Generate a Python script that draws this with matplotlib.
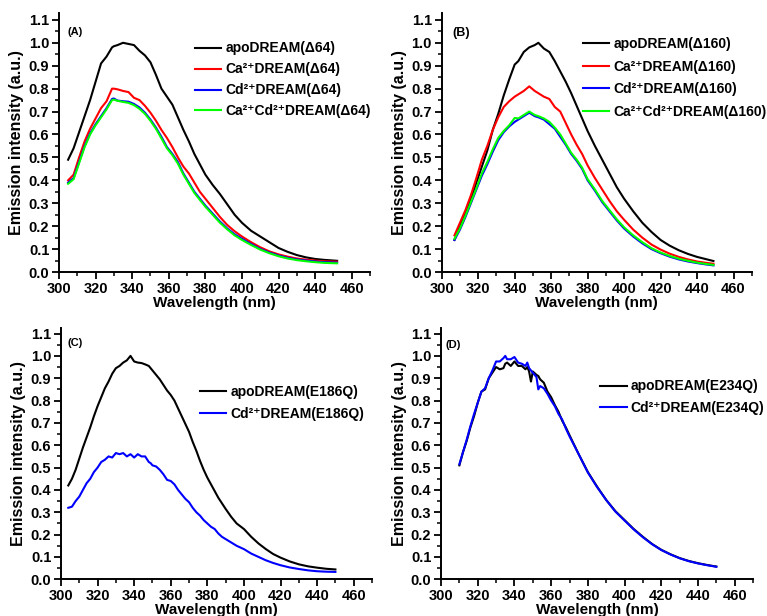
import matplotlib
matplotlib.use("Agg")
import matplotlib.pyplot as plt
from matplotlib.ticker import MultipleLocator, FormatStrFormatter

# ---------- Data ----------
# (A) DREAM(delta64)
wl_a = [305, 308, 311, 314, 317, 320, 323, 326, 329, 330, 332, 335, 338, 341, 344, 347, 350,
        353, 356, 359, 362, 365, 368, 371, 374, 377, 380, 384, 388, 392, 396, 400, 405, 410,
        415, 420, 425, 430, 435, 440, 445, 452]
apo_a = [0.49, 0.54, 0.61, 0.68, 0.75, 0.83, 0.91, 0.94, 0.98, 0.985, 0.99, 1.0, 0.995, 0.99,
         0.965, 0.945, 0.915, 0.86, 0.80, 0.765, 0.73, 0.675, 0.62, 0.57, 0.515, 0.47, 0.425,
         0.38, 0.34, 0.295, 0.25, 0.215, 0.18, 0.155, 0.13, 0.105, 0.088, 0.074, 0.064, 0.057,
         0.053, 0.049]
ca_a = [0.40, 0.425, 0.50, 0.57, 0.625, 0.67, 0.715, 0.745, 0.80, 0.80, 0.797, 0.79, 0.785, 0.76,
        0.75, 0.725, 0.695, 0.66, 0.62, 0.585, 0.545, 0.50, 0.46, 0.43, 0.39, 0.35, 0.32, 0.28,
        0.24, 0.205, 0.178, 0.155, 0.13, 0.108, 0.09, 0.077, 0.067, 0.059, 0.054, 0.05, 0.047,
        0.045]
cd_a = [0.39, 0.41, 0.48, 0.55, 0.605, 0.645, 0.68, 0.715, 0.755, 0.757, 0.748, 0.745, 0.743,
        0.733, 0.718, 0.695, 0.665, 0.63, 0.59, 0.545, 0.515, 0.48, 0.43, 0.39, 0.35, 0.32, 0.29,
        0.255, 0.22, 0.19, 0.165, 0.145, 0.122, 0.101, 0.085, 0.072, 0.062, 0.055, 0.05, 0.046,
        0.043, 0.041]
cacd_a = [0.385, 0.405, 0.475, 0.545, 0.60, 0.64, 0.675, 0.71, 0.75, 0.752, 0.747, 0.742, 0.738,
          0.728, 0.712, 0.69, 0.66, 0.625, 0.583, 0.54, 0.51, 0.473, 0.425, 0.385, 0.345, 0.315,
          0.285, 0.25, 0.215, 0.186, 0.16, 0.14, 0.118, 0.098, 0.082, 0.069, 0.059, 0.052, 0.047,
          0.043, 0.04, 0.038]

# (B) DREAM(delta160)
wl_b = [307, 310, 313, 316, 319, 322, 325, 328, 331, 334, 337, 340, 342, 345, 348, 351, 353,
        356, 359, 362, 365, 368, 371, 374, 377, 380, 384, 388, 392, 396, 400, 405, 410, 415,
        420, 425, 430, 435, 440, 445, 449]
apo_b = [0.14, 0.20, 0.26, 0.32, 0.39, 0.46, 0.53, 0.62, 0.69, 0.77, 0.84, 0.905, 0.92, 0.96,
         0.98, 0.99, 1.0, 0.975, 0.96, 0.92, 0.875, 0.83, 0.78, 0.725, 0.67, 0.615, 0.55, 0.49,
         0.43, 0.37, 0.32, 0.265, 0.215, 0.175, 0.14, 0.115, 0.095, 0.079, 0.066, 0.056, 0.048]
ca_b = [0.16, 0.215, 0.27, 0.335, 0.41, 0.49, 0.55, 0.62, 0.675, 0.72, 0.745, 0.765, 0.775, 0.79,
        0.81, 0.79, 0.78, 0.765, 0.755, 0.72, 0.70, 0.65, 0.60, 0.555, 0.515, 0.465, 0.41, 0.36,
        0.31, 0.265, 0.228, 0.185, 0.15, 0.12, 0.098, 0.08, 0.066, 0.055, 0.046, 0.04, 0.036]
cd_b = [0.14, 0.185, 0.24, 0.30, 0.36, 0.42, 0.47, 0.525, 0.575, 0.61, 0.635, 0.655, 0.665, 0.68,
        0.695, 0.68, 0.675, 0.665, 0.645, 0.625, 0.59, 0.555, 0.515, 0.485, 0.45, 0.40, 0.355,
        0.305, 0.265, 0.225, 0.19, 0.155, 0.125, 0.10, 0.082, 0.067, 0.055, 0.046, 0.039, 0.033,
        0.029]
cacd_b = [0.145, 0.19, 0.245, 0.305, 0.365, 0.43, 0.48, 0.535, 0.585, 0.615, 0.64, 0.672, 0.67,
          0.685, 0.70, 0.685, 0.68, 0.67, 0.655, 0.63, 0.60, 0.56, 0.52, 0.49, 0.455, 0.405, 0.36,
          0.31, 0.27, 0.23, 0.195, 0.16, 0.13, 0.104, 0.085, 0.07, 0.058, 0.049, 0.041, 0.035,
          0.031]

# (C) DREAM(E186Q)
wl_c = [304, 306, 308, 310, 312, 314, 316, 318, 320, 322, 324, 326, 328, 330, 332, 334, 336, 338,
        340, 342, 344, 346, 348, 349, 350, 352, 354, 356, 358, 360, 362, 364, 366, 368, 370, 372,
        374, 376, 378, 380, 382, 384, 386, 388, 390, 393, 396, 400, 404, 408, 412, 416, 420, 425,
        430, 435, 440, 445, 450]
apo_c = [0.42, 0.45, 0.49, 0.54, 0.59, 0.635, 0.68, 0.73, 0.775, 0.815, 0.855, 0.885, 0.92,
         0.945, 0.955, 0.97, 0.98, 1.0, 0.975, 0.97, 0.968, 0.962, 0.955, 0.945, 0.935, 0.915,
         0.895, 0.87, 0.845, 0.825, 0.80, 0.765, 0.73, 0.695, 0.66, 0.615, 0.575, 0.53, 0.49,
         0.455, 0.425, 0.395, 0.365, 0.34, 0.315, 0.28, 0.25, 0.225, 0.19, 0.16, 0.135, 0.113,
         0.097, 0.08, 0.067, 0.058, 0.052, 0.047, 0.044]
cd_c = [0.32, 0.325, 0.35, 0.37, 0.40, 0.43, 0.45, 0.48, 0.50, 0.525, 0.535, 0.55, 0.545, 0.565,
        0.56, 0.565, 0.55, 0.56, 0.545, 0.56, 0.55, 0.55, 0.525, 0.52, 0.51, 0.505, 0.49, 0.47,
        0.445, 0.44, 0.425, 0.40, 0.38, 0.36, 0.345, 0.32, 0.30, 0.285, 0.265, 0.25, 0.235, 0.225,
        0.205, 0.19, 0.18, 0.165, 0.15, 0.135, 0.115, 0.10, 0.085, 0.073, 0.063, 0.053, 0.046,
        0.04, 0.036, 0.034, 0.033]

# (D) DREAM(E234Q)
wl_d = [310, 312, 314, 316, 318, 320, 322, 324, 326, 328, 330, 332, 334, 335, 336, 338, 340, 342,
        344, 346, 347, 348, 349, 350, 352, 353, 354, 356, 358, 360, 362, 364, 366, 368, 370, 375,
        380, 385, 390, 395, 400, 405, 410, 415, 420, 425, 430, 435, 440, 445, 450]
apo_d = [0.51, 0.57, 0.62, 0.68, 0.73, 0.79, 0.84, 0.85, 0.90, 0.925, 0.95, 0.94, 0.945, 0.965,
         0.97, 0.955, 0.975, 0.955, 0.955, 0.94, 0.95, 0.93, 0.885, 0.93, 0.915, 0.91, 0.895,
         0.88, 0.84, 0.815, 0.78, 0.75, 0.71, 0.68, 0.645, 0.56, 0.48, 0.415, 0.355, 0.305, 0.265,
         0.225, 0.19, 0.158, 0.132, 0.112, 0.095, 0.082, 0.072, 0.064, 0.057]
cd_d = [0.515, 0.57, 0.625, 0.685, 0.74, 0.79, 0.84, 0.855, 0.90, 0.935, 0.975, 0.975, 0.99, 1.0,
        0.985, 0.985, 0.995, 0.97, 0.965, 0.955, 0.97, 0.945, 0.935, 0.925, 0.905, 0.85, 0.865,
        0.855, 0.83, 0.80, 0.775, 0.74, 0.715, 0.675, 0.64, 0.56, 0.478, 0.413, 0.355, 0.303,
        0.263, 0.223, 0.188, 0.157, 0.131, 0.111, 0.094, 0.081, 0.071, 0.063, 0.056]

# ---------- Style ----------
plt.rcParams["font.family"] = ["Liberation Sans", "DejaVu Sans"]
plt.rcParams["font.weight"] = "bold"

fig = plt.figure(figsize=(7.67, 6.16), dpi=100)

# panel rectangles in figure fractions
rects = {
    "A": [0.0769, 0.5584, 0.4055, 0.4205],
    "B": [0.5759, 0.5584, 0.4042, 0.4205],
    "C": [0.0795, 0.0596, 0.4055, 0.4080],
    "D": [0.5750, 0.0596, 0.4068, 0.4080],
}


def setup_axes(ax, ytop, tag, tag_xy, tag_size):
    ax.set_xlim(300, 470)
    ax.set_ylim(0, ytop)
    ax.spines["top"].set_visible(False)
    ax.spines["right"].set_visible(False)
    for s in ("left", "bottom"):
        ax.spines[s].set_linewidth(1.4)
    ax.set_xticks(range(300, 461, 20))
    ax.set_yticks([i / 10 for i in range(12)])
    ax.xaxis.set_minor_locator(MultipleLocator(10))
    ax.yaxis.set_minor_locator(MultipleLocator(0.05))
    ax.yaxis.set_major_formatter(FormatStrFormatter("%.1f"))
    ax.tick_params(which="major", direction="out", length=5, width=1.3,
                   labelsize=10.5, pad=2)
    ax.tick_params(which="minor", direction="out", length=3, width=1.1)
    ax.set_xlabel("Wavelength (nm)", fontsize=11, fontweight="bold", labelpad=0)
    ax.set_ylabel("Emission intensity (a.u.)", fontsize=11.5, fontweight="bold", labelpad=3)
    ax.text(tag_xy[0], tag_xy[1], tag, transform=ax.transAxes, fontsize=tag_size,
            fontweight="bold", va="center", ha="left")


def add_legend(ax, anchor, spacing):
    ax.legend(loc="upper left", bbox_to_anchor=anchor, frameon=False,
              prop={"size": 10, "weight": "bold"}, handlelength=1.9,
              handletextpad=0.3, labelspacing=spacing, borderaxespad=0, borderpad=0)


lw = 1.5

# ---------- (A) ----------
ax = fig.add_axes(rects["A"])
ax.plot(wl_a, apo_a, color="black", lw=lw, label="apoDREAM(Δ64)")
ax.plot(wl_a, ca_a, color="#ff0000", lw=lw, label="Ca²⁺DREAM(Δ64)")
ax.plot(wl_a, cd_a, color="#0000ff", lw=lw, label="Cd²⁺DREAM(Δ64)")
ax.plot(wl_a, cacd_a, color="#00ff00", lw=lw, label="Ca²⁺Cd²⁺DREAM(Δ64)")
setup_axes(ax, 1.13, "(A)", (0.026, 0.927), 8)
add_legend(ax, (0.437, 0.89), 0.5)

# ---------- (B) ----------
ax = fig.add_axes(rects["B"])
ax.plot(wl_b, apo_b, color="black", lw=lw, label="apoDREAM(Δ160)")
ax.plot(wl_b, ca_b, color="#ff0000", lw=lw, label="Ca²⁺DREAM(Δ160)")
ax.plot(wl_b, cd_b, color="#0000ff", lw=lw, label="Cd²⁺DREAM(Δ160)")
ax.plot(wl_b, cacd_b, color="#00ff00", lw=lw, label="Ca²⁺Cd²⁺DREAM(Δ160)")
setup_axes(ax, 1.13, "(B)", (0.033, 0.923), 9)
add_legend(ax, (0.456, 0.907), 0.62)

# ---------- (C) ----------
ax = fig.add_axes(rects["C"])
ax.plot(wl_c, apo_c, color="black", lw=lw, label="apoDREAM(E186Q)")
ax.plot(wl_c, cd_c, color="#0000ff", lw=lw, label="Cd²⁺DREAM(E186Q)")
setup_axes(ax, 1.125, "(C)", (0.0225, 0.94), 8)
add_legend(ax, (0.447, 0.772), 0.55)

# ---------- (D) ----------
ax = fig.add_axes(rects["D"])
ax.plot(wl_d, apo_d, color="black", lw=lw, label="apoDREAM(E234Q)")
ax.plot(wl_d, cd_d, color="#0000ff", lw=lw, label="Cd²⁺DREAM(E234Q)")
setup_axes(ax, 1.125, "(D)", (0.013, 0.932), 8)
add_legend(ax, (0.51, 0.795), 0.55)

fig.savefig("out.png", dpi=100)
